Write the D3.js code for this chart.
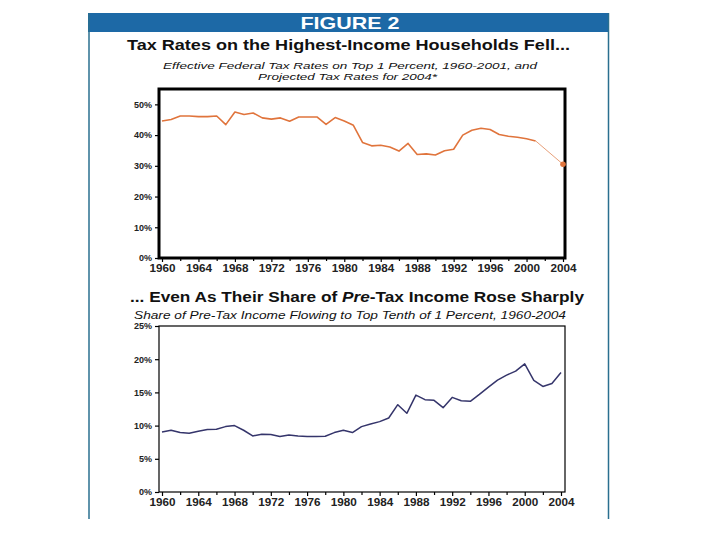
<!DOCTYPE html>
<html>
<head>
<meta charset="utf-8">
<script src="https://cdn.jsdelivr.net/npm/d3@7"></script>
<style>
  html, body { margin: 0; padding: 0; background: #ffffff; }
  svg { display: block; font-family: "Liberation Sans", Arial, sans-serif; }
</style>
</head>
<body>
<svg id="chart" width="720" height="540"></svg>
<script>
// ---- Data ----
const taxYears = [1960,1961,1962,1963,1964,1965,1966,1967,1968,1969,1970,1971,1972,1973,1974,1975,1976,1977,1978,1979,1980,1981,1982,1983,1984,1985,1986,1987,1988,1989,1990,1991,1992,1993,1994,1995,1996,1997,1998,1999,2000,2001];
const taxRates = [44.6,45.1,46.2,46.2,46.0,46.0,46.2,43.4,47.5,46.7,47.2,45.6,45.2,45.6,44.5,45.9,45.9,45.9,43.5,45.7,44.6,43.2,37.6,36.5,36.7,36.1,34.8,37.3,33.7,33.9,33.5,34.9,35.4,40.0,41.6,42.2,41.8,40.2,39.6,39.3,38.8,38.1];
const projYears = [2001, 2004];
const projRates = [38.1, 30.5];

const shareYears = [1960,1961,1962,1963,1964,1965,1966,1967,1968,1969,1970,1971,1972,1973,1974,1975,1976,1977,1978,1979,1980,1981,1982,1983,1984,1985,1986,1987,1988,1989,1990,1991,1992,1993,1994,1995,1996,1997,1998,1999,2000,2001,2002,2003,2004];
const shareValues = [9.05,9.3,8.95,8.85,9.15,9.4,9.45,9.85,10.0,9.3,8.45,8.7,8.65,8.35,8.6,8.45,8.35,8.35,8.4,8.95,9.3,8.95,9.85,10.25,10.6,11.15,13.15,11.85,14.6,13.9,13.8,12.7,14.25,13.75,13.65,14.7,15.8,16.85,17.6,18.2,19.3,16.8,15.9,16.35,18.0];

const xTickLabels = [1960,1964,1968,1972,1976,1980,1984,1988,1992,1996,2000,2004];
const xMinorTicks = [1962,1966,1970,1974,1978,1982,1986,1990,1994,1998,2002];
const taxYTicks = [0,10,20,30,40,50];
const shareYTicks = [0,5,10,15,20,25];

const headerText = "FIGURE 2";
const title1 = "Tax Rates on the Highest-Income Households Fell...";
const subtitle1a = "Effective Federal Tax Rates on Top 1 Percent, 1960-2001, and";
const subtitle1b = "Projected Tax Rates for 2004*";
const subtitle2 = "Share of Pre-Tax Income Flowing to Top Tenth of 1 Percent, 1960-2004";

// ---- Drawing ----
const svg = d3.select("#chart");
const blue = "#1d69a6";
const orange = "#e0743c";
const navy = "#35356b";

// panel
svg.append("rect").attr("x", 88).attr("y", 13).attr("width", 521).attr("height", 19).attr("fill", blue);
svg.append("line").attr("x1", 89).attr("x2", 89).attr("y1", 13).attr("y2", 519).attr("stroke", "#2a6f8f").attr("stroke-width", 1.5);
svg.append("line").attr("x1", 608.5).attr("x2", 608.5).attr("y1", 13).attr("y2", 519).attr("stroke", "#2a6f8f").attr("stroke-width", 1.5);

function fitText(sel, len) {
  return sel.attr("textLength", len).attr("lengthAdjust", "spacingAndGlyphs");
}

fitText(svg.append("text").attr("x", 350).attr("y", 29).attr("text-anchor", "middle")
  .attr("fill", "#fff").attr("font-weight", "bold").attr("font-size", 17).text(headerText), 99);

fitText(svg.append("text").attr("x", 348.5).attr("y", 49.5).attr("text-anchor", "middle")
  .attr("fill", "#111").attr("font-weight", "bold").attr("font-size", 15).text(title1), 443);
fitText(svg.append("text").attr("x", 350).attr("y", 68.5).attr("text-anchor", "middle")
  .attr("fill", "#111").attr("font-style", "italic").attr("font-size", 9.5).text(subtitle1a), 374);
fitText(svg.append("text").attr("x", 347.5).attr("y", 79.5).attr("text-anchor", "middle")
  .attr("fill", "#111").attr("font-style", "italic").attr("font-size", 9.5).text(subtitle1b), 179);

const t2 = fitText(svg.append("text").attr("x", 357).attr("y", 302).attr("text-anchor", "middle")
  .attr("fill", "#111").attr("font-weight", "bold").attr("font-size", 15), 454);
t2.append("tspan").text("... Even As Their Share of ");
t2.append("tspan").attr("font-style", "italic").text("Pre");
t2.append("tspan").text("-Tax Income Rose Sharply");

fitText(svg.append("text").attr("x", 350).attr("y", 319).attr("text-anchor", "middle")
  .attr("fill", "#111").attr("font-style", "italic").attr("font-size", 10).text(subtitle2), 432);

function drawAxes(g, x, y, yTicks, frameW, top, bottom, left, right) {
  // y axis
  const ya = g.append("g").attr("transform", `translate(${left},0)`)
    .call(d3.axisLeft(y).tickValues(yTicks).tickSize(4).tickPadding(3).tickFormat(d => d + "%"));
  ya.select(".domain").remove();
  ya.selectAll("line").attr("stroke", "#000").attr("stroke-width", 1.2);
  ya.selectAll("text").attr("font-size", 9).attr("font-weight", "bold").attr("fill", "#222")
    .attr("font-family", "Liberation Sans, Arial, sans-serif");
  // x axis
  const xa = g.append("g").attr("transform", `translate(0,${bottom})`)
    .call(d3.axisBottom(x).tickValues(xTickLabels).tickSize(4).tickPadding(3).tickFormat(d3.format("d")));
  xa.select(".domain").remove();
  xa.selectAll("line").attr("stroke", "#000").attr("stroke-width", 1.2);
  xa.selectAll("text").attr("font-size", 10).attr("font-weight", "bold").attr("fill", "#222")
    .attr("font-family", "Liberation Sans, Arial, sans-serif")
    .attr("textLength", 26).attr("lengthAdjust", "spacingAndGlyphs");
  const xm = g.append("g").attr("transform", `translate(0,${bottom})`)
    .call(d3.axisBottom(x).tickValues(xMinorTicks).tickSize(3).tickFormat(""));
  xm.select(".domain").remove();
  xm.selectAll("line").attr("stroke", "#000").attr("stroke-width", 1.2);
  // frame
  g.append("rect").attr("x", left).attr("y", top).attr("width", right - left).attr("height", bottom - top)
    .attr("fill", "none").attr("stroke", "#000").attr("stroke-width", frameW);
}

// ---- Top chart ----
const top1 = 89, bot1 = 258, left1 = 159, right1 = 565;
const x1 = d3.scaleLinear().domain([1960, 2004]).range([162, 563]);
const y1 = d3.scaleLinear().domain([0, 55]).range([bot1, top1]);
const g1 = svg.append("g");
drawAxes(g1, x1, y1, taxYTicks, 3, top1, bot1, left1, right1);

const line1 = d3.line().x(d => x1(d[0])).y(d => y1(d[1]));
g1.append("path").datum(taxYears.map((yr, i) => [yr, taxRates[i]]))
  .attr("d", line1).attr("fill", "none").attr("stroke", orange).attr("stroke-width", 1.6)
  .attr("stroke-linejoin", "round");
g1.append("path").datum(projYears.map((yr, i) => [yr, projRates[i]]))
  .attr("d", line1).attr("fill", "none").attr("stroke", "#e8a07a").attr("stroke-width", 1);
g1.append("circle").attr("cx", x1(projYears[1])).attr("cy", y1(projRates[1])).attr("r", 2.8).attr("fill", orange);

// ---- Bottom chart ----
const top2 = 326, bot2 = 492, left2 = 159, right2 = 565;
const x2 = d3.scaleLinear().domain([1960, 2004]).range([162, 561]);
const y2 = d3.scaleLinear().domain([0, 25]).range([bot2, top2]);
const g2 = svg.append("g");
drawAxes(g2, x2, y2, shareYTicks, 1.2, top2, bot2, left2, right2);

const line2 = d3.line().x(d => x2(d[0])).y(d => y2(d[1]));
g2.append("path").datum(shareYears.map((yr, i) => [yr, shareValues[i]]))
  .attr("d", line2).attr("fill", "none").attr("stroke", navy).attr("stroke-width", 1.5)
  .attr("stroke-linejoin", "round");
</script>
</body>
</html>
